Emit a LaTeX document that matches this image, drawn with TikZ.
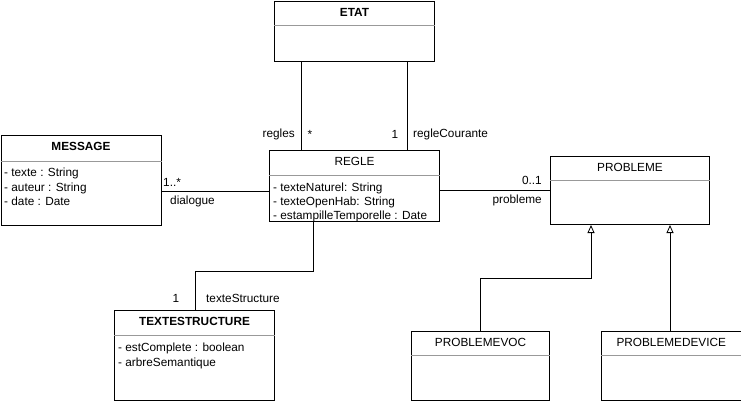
\documentclass[tikz,border=0pt]{standalone}
\usepackage{fontspec}
\setmainfont{Liberation Sans}
\usetikzlibrary{arrows.meta,calc}
\begin{document}
\begin{tikzpicture}[x=1pt,y=-1pt,
  every node/.style={font=\fontsize{11.8}{14.3}\selectfont, inner sep=0pt},
  cls/.style={draw=black, line width=1pt, fill=white, rectangle, anchor=north west},
  ttl/.style={anchor=center},
  sep/.style={draw=gray!80, line width=0.8pt},
  attr/.style={anchor=north west, align=left, font=\fontsize{11.8}{14.3}\selectfont},
  conn/.style={draw=black, line width=1pt},
  inh/.style={conn, -{Triangle[open, length=8pt, width=7pt, line width=0.8pt]}},
  lbl/.style={font=\fontsize{11.8}{13}\selectfont}
]
\useasboundingbox (0,0) rectangle (741,401);
% classes
\node[cls, minimum width=160, minimum height=60] (etat) at (274,1) {};
\node[ttl, font=\fontsize{11.8}{13}\selectfont\bfseries] (etatT) at ($(etat.north)+(0,11.5)$) {ETAT};
\draw[sep] ([yshift=-24]etat.north west) -- ([yshift=-24]etat.north east);

\node[cls, minimum width=160, minimum height=90] (msg) at (0.5,135) {};
\node[ttl, font=\fontsize{11.8}{13}\selectfont\bfseries] (msgT) at ($(msg.north)+(0,11.5)$) {MESSAGE};
\draw[sep] ([yshift=-26]msg.north west) -- ([yshift=-26]msg.north east);
\node[attr] (msgA) at (4,168) {- texte : String\\- auteur : String\\- date : Date};

\node[cls, minimum width=170, minimum height=71] (regle) at (269,150) {};
\node[ttl] (regleT) at ($(regle.north)+(0,11.5)$) {REGLE};
\draw[sep] ([yshift=-25]regle.north west) -- ([yshift=-25]regle.north east);
\node[attr] (regleA) at (273,182.5) {- texteNaturel: String\\- texteOpenHab: String\\- estampilleTemporelle : Date};

\node[cls, minimum width=159, minimum height=68] (prob) at (550,156) {};
\node[ttl] (probT) at ($(prob.north)+(0,11.5)$) {PROBLEME};
\draw[sep] ([yshift=-24]prob.north west) -- ([yshift=-24]prob.north east);

\node[cls, minimum width=160, minimum height=90] (txt) at (114,310) {};
\node[ttl, font=\fontsize{11.8}{13}\selectfont\bfseries] (txtT) at ($(txt.north)+(0,11.5)$) {TEXTESTRUCTURE};
\draw[sep] ([yshift=-25]txt.north west) -- ([yshift=-25]txt.north east);
\node[attr] (txtA) at (118,343) {- estComplete : boolean\\- arbreSemantique};

\node[cls, minimum width=138, minimum height=69] (voc) at (411,331) {};
\node[ttl] (vocT) at ($(voc.north)+(0,11)$) {PROBLEMEVOC};
\draw[sep] ([yshift=-24]voc.north west) -- ([yshift=-24]voc.north east);

\node[cls, minimum width=139.5, minimum height=69] (dev) at (601,331) {};
\node[ttl] (devT) at ($(dev.north)+(0,11)$) {PROBLEMEDEVICE};
\draw[sep] ([yshift=-24]dev.north west) -- ([yshift=-24]dev.north east);

% helper coordinates
\coordinate (xa) at (301,0);
\coordinate (xb) at (407,0);
\coordinate (ya) at (0,191);
\coordinate (yb) at (0,190);
\coordinate (c1) at (313,271);
\coordinate (c2) at (195,271);
\coordinate (c3) at (480,278);
\coordinate (c4) at (591,278);
\coordinate (xd) at (670,0);

% connectors
\draw[conn] (etat.south -| xa) -- (regle.north -| xa);
\draw[conn] (etat.south -| xb) -- (regle.north -| xb);
\draw[conn] (msg.east |- ya) -- (regle.west |- ya);
\draw[conn] (regle.east |- yb) -- (prob.west |- yb);
\draw[conn] (regle.south -| c1) -- (c1) -- (c2) -- (txt.north -| c2);
\draw[inh] (voc.north -| c3) -- (c3) -- (c4) -- (prob.south -| c4);
\draw[inh] (dev.north -| xd) -- (prob.south -| xd);

% labels
\node[lbl, anchor=east] (l1) at (295,134) {regles};
\node[lbl] (l2) at (310,134) {*};
\node[lbl] (l3) at (395,134) {1};
\node[lbl, anchor=west] (l4) at (413,134) {regleCourante};
\node[lbl, anchor=west] (l5) at (163,182) {1..*};
\node[lbl, anchor=west] (l6) at (170,201) {dialogue};
\node[lbl, anchor=east] (l7) at (542,180) {0..1};
\node[lbl, anchor=east] (l8) at (542,200) {probleme};
\node[lbl] (l9) at (176,298) {1};
\node[lbl, anchor=west] (l10) at (206,298) {texteStructure};
\end{tikzpicture}
\end{document}
